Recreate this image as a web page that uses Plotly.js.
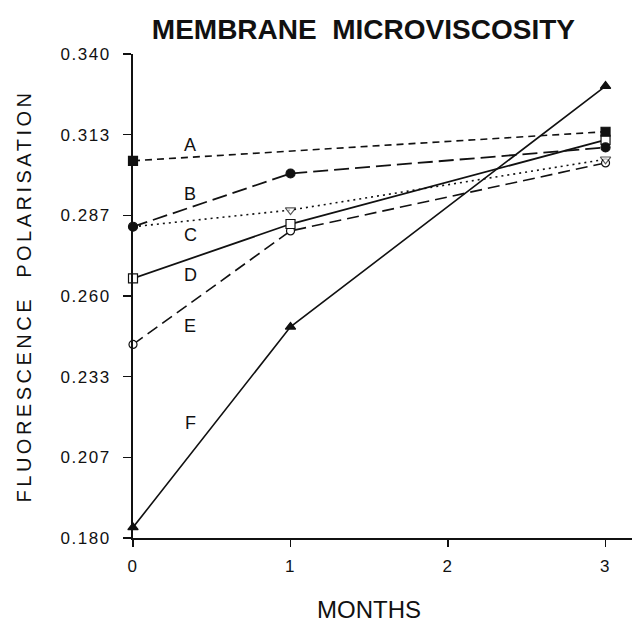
<!DOCTYPE html>
<html>
<head>
<meta charset="utf-8">
<script src="https://cdn.plot.ly/plotly-3.0.1.min.js"></script>
<style>
  html, body { margin: 0; padding: 0; background: #ffffff; }
  #chart { width: 632px; height: 622px; }
  .ytitle { letter-spacing: 3.5px; }
  .ytick text, .xtick text { letter-spacing: 1.5px; }
</style>
</head>
<body>
<div id="chart"></div>
<script>
// ---- data ----
const months = [0, 1, 3];
const seriesA = [0.3047, null, 0.3143];
const seriesB = [0.2829, 0.3005, 0.3091];
const seriesC = [0.2829, 0.2884, 0.3052];
const seriesD = [0.2658, 0.2838, 0.3116];
const seriesE = [0.2440, 0.2815, 0.3040];
const seriesF = [0.1835, 0.2498, 0.3294];

const curveLabels = ['A', 'B', 'C', 'D', 'E', 'F'];
const curveLabelMonth = 0.365;
const curveLabelValues = [0.3099, 0.2936, 0.2801, 0.2669, 0.2501, 0.2179];

const yTickValues = [0.18, 0.206667, 0.233333, 0.26, 0.286667, 0.313333, 0.34];
const yTickLabels = ['0.180', '0.207', '0.233', '0.260', '0.287', '0.313', '0.340'];
const xTickValues = [0, 1, 2, 3];
const xTickLabels = ['0', '1', '2', '3'];

const titleText = 'MEMBRANE&nbsp; MICROVISCOSITY';
const xTitleText = 'MONTHS';
const yTitleText = 'FLUORESCENCE&nbsp; POLARISATION';

// ---- styling ----
const FONT = 'Liberation Sans, Arial, sans-serif';
const INK = '#111111';

function trace(y, dash, symbol, markerSize, filled, width) {
  return {
    x: months, y: y, type: 'scatter', mode: 'lines+markers',
    connectgaps: true,
    line: { color: INK, width: width || 1.5, dash: dash },
    marker: {
      symbol: symbol, size: markerSize,
      color: filled ? INK : '#ffffff',
      line: { color: INK, width: 1.2 }
    },
    hoverinfo: 'skip', cliponaxis: false, showlegend: false
  };
}

const data = [
  trace(seriesF, 'solid', 'triangle-up', 9, true, 1.6),
  trace(seriesE, '12px,6px', 'circle', 8, false, 1.6),
  trace(seriesD, 'solid', 'square', 9, false, 1.8),
  trace(seriesC, '2px,4px', 'triangle-down', [0, 9, 9], false, 1.6),
  trace(seriesB, '15px,6px', 'circle', 9, true, 1.8),
  trace(seriesA, '7px,5px', 'square', 9, true, 1.6)
];

const annotations = curveLabels.map((t, i) => ({
  x: curveLabelMonth, y: curveLabelValues[i], xref: 'x', yref: 'y',
  text: t, showarrow: false, xanchor: 'center', yanchor: 'middle',
  font: { family: FONT, size: 18, color: INK }
}));
annotations.push({
  x: 1.5, y: 0, xref: 'x', yref: 'paper', yshift: -71,
  text: xTitleText, showarrow: false, xanchor: 'center', yanchor: 'middle',
  font: { family: FONT, size: 24, color: INK }
});

const layout = {
  width: 632, height: 622,
  paper_bgcolor: '#ffffff', plot_bgcolor: '#ffffff',
  margin: { l: 133, r: 0, t: 54, b: 84, pad: 0 },
  title: {
    text: titleText, x: 0.575, xanchor: 'center', xref: 'container',
    y: 0.953, yanchor: 'middle', yref: 'container',
    font: { family: FONT, size: 28, color: INK, weight: 'bold' }
  },
  xaxis: {
    range: [0, 3.168], tickvals: xTickValues, ticktext: xTickLabels,
    showgrid: false, zeroline: false, showline: true, linecolor: INK, linewidth: 2,
    ticks: 'outside', ticklen: 7, tickwidth: 1.5, tickcolor: INK,
    tickfont: { family: FONT, size: 17, color: INK }, ticklabelstandoff: 5,
    fixedrange: true
  },
  yaxis: {
    range: [0.18, 0.34], tickvals: yTickValues, ticktext: yTickLabels,
    showgrid: false, zeroline: false, showline: true, linecolor: INK, linewidth: 2,
    ticks: 'outside', ticklen: 8, tickwidth: 1.5, tickcolor: INK,
    tickfont: { family: FONT, size: 17, color: INK }, ticklabelstandoff: 9,
    title: { text: yTitleText, font: { family: FONT, size: 20, color: INK }, standoff: 24 },
    fixedrange: true
  },
  annotations: annotations
};

Plotly.newPlot('chart', data, layout, { displayModeBar: false, staticPlot: true });
</script>
</body>
</html>
